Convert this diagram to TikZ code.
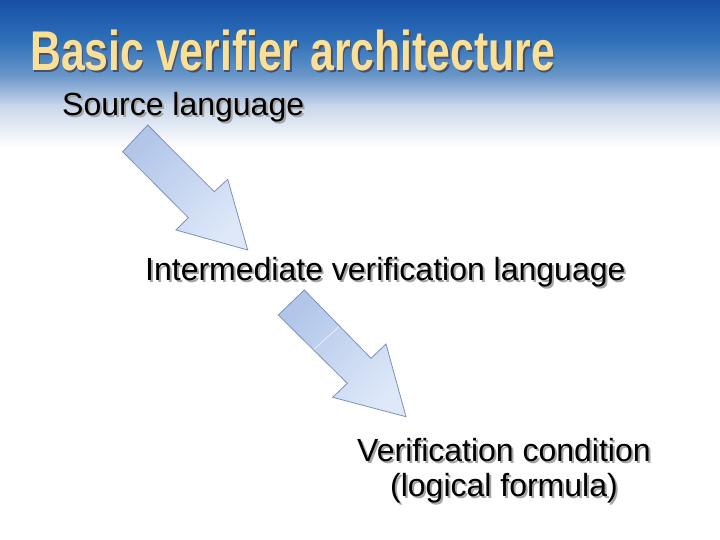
\documentclass[tikz,border=0pt]{standalone}
\usepackage{fontspec}
\setmainfont{Liberation Sans}
\usepackage{graphicx}
\definecolor{bgA}{RGB}{24,80,165}
\definecolor{bgB}{RGB}{45,112,185}
\definecolor{bgC}{RGB}{105,150,200}
\definecolor{bgD}{RGB}{200,214,234}
\definecolor{titlecol}{RGB}{250,224,150}
\definecolor{titleshadow}{RGB}{70,80,105}
\definecolor{txtshadow}{RGB}{165,165,165}
\definecolor{arrowdark}{RGB}{178,198,234}
\definecolor{arrowlight}{RGB}{222,232,248}
\definecolor{arrowedge}{RGB}{125,145,185}
\newcommand{\shtext}[3]{\rlap{\hspace{2pt}\raisebox{-2pt}{\textcolor{#1}{#3}}}\textcolor{#2}{#3}}
\begin{document}
\begin{tikzpicture}[x=1pt,y=-1pt,
  label/.style={font=\fontsize{32}{38}\selectfont, inner sep=0pt, anchor=base west},
  titletxt/.style={inner sep=0pt, anchor=base west, font=\fontsize{56}{60}\selectfont\bfseries},
  bigarrow/.style={draw=arrowedge, line width=0.8pt, line join=miter, left color=arrowdark, right color=arrowlight, shading angle=45}]
\useasboundingbox (0,0) rectangle (720,540);
\fill[white] (0,0) rectangle (720,540);
\shade[top color=bgA, bottom color=bgB] (0,0) rectangle (720,40.5);
\shade[top color=bgB, bottom color=bgC] (0,40) rectangle (720,75.5);
\shade[top color=bgC, bottom color=bgD] (0,75) rectangle (720,105.5);
\shade[top color=bgD, bottom color=white] (0,105) rectangle (720,148);
% title
\node[titletxt] (title) at (30,71)
  {\resizebox{525pt}{\height}{\shtext{titleshadow}{titlecol}{Basic verifier architecture}}};
% labels
\node[label] (src) at (62,116) {\shtext{txtshadow}{black}{Source language}};
\node[label] (ivl) at (145,280) {\shtext{txtshadow}{black}{Intermediate verification language}};
\node[label, anchor=base] (vc) at (504,461) {\shtext{txtshadow}{black}{Verification condition}};
\node[label, anchor=base] (vc2) at (504,496) {\shtext{txtshadow}{black}{(logical formula)}};
% arrows
\path[bigarrow] (147.7,125) coordinate (a1t) -- (122.7,151.7) -- (188.3,217.7) -- (176,230) -- (247.7,250) coordinate (a1h) -- (227.7,179.3) -- (214.3,191.7) -- cycle;
\path[bigarrow] (304.3,290) coordinate (a2t) -- (278.3,315) -- (347.3,383.3) -- (332.7,397.3) -- (406,416.7) coordinate (a2h) -- (386,344) -- (371,358.3) -- cycle;
\draw[white, opacity=0.8, line width=0.6pt] (339,326.7) -- (314.3,349);
\end{tikzpicture}
\end{document}
